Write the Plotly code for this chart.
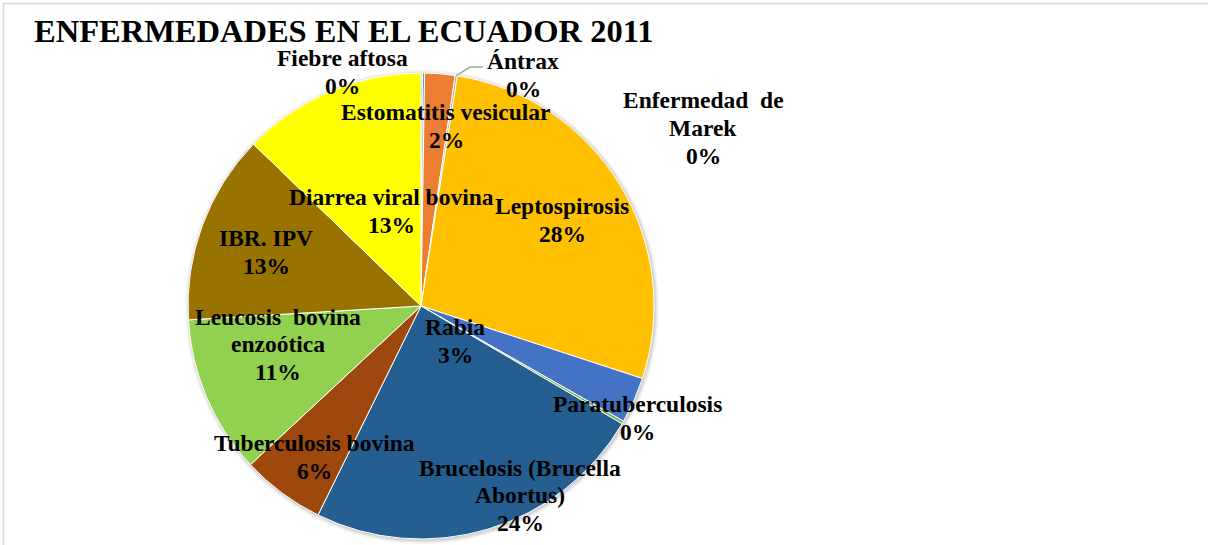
import math
import plotly.graph_objects as go

# ---- data ----
labels = ["Fiebre aftosa", "Enfermedad de Marek", "Estomatitis vesicular", "Ántrax",
          "Leptospirosis", "Rabia", "Paratuberculosis", "Brucelosis (Brucella Abortus)",
          "Tuberculosis bovina", "Leucosis bovina enzoótica", "IBR. IPV", "Diarrea viral bovina"]
values = [0.1, 0.15, 2.1, 0.15, 27.6, 3.2, 0.2, 23.9, 5.8, 11.0, 13.2, 12.8]
colors = ["#43682B", "#5B9BD5", "#ED7D31", "#A5A5A5", "#FFC000", "#4472C4",
          "#70AD47", "#255E91", "#9E480E", "#92D050", "#997300", "#FFFF00"]
title_text = "ENFERMEDADES EN EL ECUADOR 2011"

# label text lines (as wrapped in the chart) and their layout positions (px)
label_lines = [["Fiebre aftosa"], ["Enfermedad\u00a0 de", "Marek"], ["Estomatitis vesicular"], ["Ántrax"],
               ["Leptospirosis"], ["Rabia"], ["Paratuberculosis"], ["Brucelosis (Brucella", "Abortus)"],
               ["Tuberculosis bovina"], ["Leucosis\u00a0 bovina", "enzoótica"], ["IBR. IPV"], ["Diarrea viral bovina"]]
label_pos = [(342, 72), (703, 128), (446, 126), (523, 75),
             (562, 220), (455, 341), (637, 418), (520, 495),
             (314, 457), (278, 344), (266, 252), (391, 211)]

W, H = 1208, 545
CX, CY, R = 421, 306, 233
LINE_H = 27.5

def px(x):
    return x / W

def py(y):
    return 1 - y / H

total = sum(values)
pcts = [round(v / total * 100) for v in values]

fig = go.Figure()
fig.add_trace(go.Pie(
    labels=labels, values=values, sort=False, direction="clockwise", rotation=0,
    marker=dict(colors=colors, line=dict(color="white", width=1)),
    textinfo="none", hoverinfo="label+percent", showlegend=False,
    domain=dict(x=[px(CX - R), px(CX + R)], y=[py(CY + R), py(CY - R)]),
))

font = dict(family="Liberation Serif, Times New Roman, serif", size=23.5, color="black")
for lines, p, (x, y) in zip(label_lines, pcts, label_pos):
    all_lines = lines + [f"{p}%"]
    n = len(all_lines)
    for k, t in enumerate(all_lines):
        ly = y + (k - (n - 1) / 2) * LINE_H
        fig.add_annotation(text="<b>" + t + "</b>",
                           x=px(x), y=py(ly), xref="paper", yref="paper",
                           xanchor="center", yanchor="middle", showarrow=False, font=font)

# leader line for Ántrax from slice middle on the rim
i = labels.index("Ántrax")
start = sum(values[:i]) / total * 360
mid = math.radians(start + values[i] / total * 360 / 2)
sx, sy = CX + R * math.sin(mid), CY - R * math.cos(mid)
fig.add_shape(type="path", xref="paper", yref="paper",
              path=f"M {px(sx)} {py(sy)} L {px(470)} {py(67)} L {px(483)} {py(67)}",
              line=dict(color="#A6A6A6", width=1.5))

# soft shadow behind pie
for d, a in [(4, 0.04), (2.5, 0.06), (1.2, 0.08)]:
    fig.add_shape(type="circle", xref="paper", yref="paper", layer="below",
                  x0=px(CX - R - d + 1), x1=px(CX + R + d + 1),
                  y0=py(CY + R + d + 1), y1=py(CY - R - d + 1),
                  fillcolor=f"rgba(0,0,0,{a})", line=dict(width=0))

# chart border (top and left visible)
fig.add_shape(type="line", xref="paper", yref="paper", x0=px(3), x1=1, y0=py(3.5), y1=py(3.5),
              line=dict(color="#D9D9D9", width=1.5))
fig.add_shape(type="line", xref="paper", yref="paper", x0=px(3.5), x1=px(3.5), y0=0, y1=py(3),
              line=dict(color="#D9D9D9", width=1.5))

fig.add_annotation(text="<b>" + title_text + "</b>", x=px(343), y=py(31), xref="paper", yref="paper",
                   xanchor="center", yanchor="middle", showarrow=False,
                   font=dict(family="Liberation Serif, Times New Roman, serif", size=32.5, color="black"))

fig.update_layout(width=W, height=H, margin=dict(l=0, r=0, t=0, b=0),
                  paper_bgcolor="white", plot_bgcolor="white")

fig.write_html("out.html", config={"displayModeBar": False},
               post_script="document.body.style.margin='0';")
